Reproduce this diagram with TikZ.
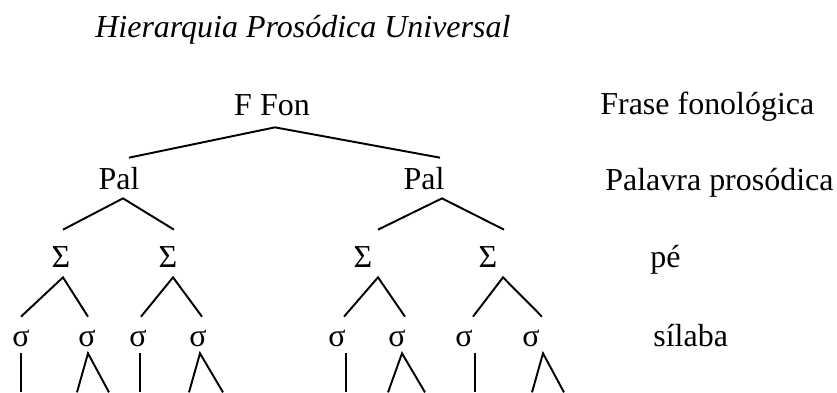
\documentclass[tikz,border=0pt]{standalone}
\usepackage{fontspec}
\setmainfont{Liberation Serif}
\usetikzlibrary{calc}

\begin{document}
\begin{tikzpicture}[x=0.02cm, y=-0.02cm,
  font=\fontsize{18.2}{22}\selectfont,
  nivel/.style={inner sep=0pt, anchor=base},
  ffon/.style={nivel, text height=0.4cm, text depth=0.24cm},
  pal/.style={nivel, text height=0.62cm, text depth=0.18cm},
  pe/.style={nivel, text height=0.74cm, text depth=0.2cm},
  sil/.style={nivel, text height=0.58cm, text depth=0.14cm},
  rotulo/.style={inner sep=0pt, anchor=base west},
  ramo/.style={line width=1.1pt}]
\useasboundingbox (0,0) rectangle (837,392);
\node [rotulo, font=\fontsize{18.2}{22}\selectfont\itshape] (titulo) at (95,37) {Hierarquia Prosódica Universal};
% frase fonologica
\node [ffon] (ffon) at (272,115) {F Fon};
\node [rotulo] (lfrase) at (600,114) {Frase fonológica};
% palavras
\node [pal] (pal1) at (119,189) {Pal};
\node [pal] (pal2) at (424,189) {Pal};
\node [rotulo] (lpal) at (605,190) {Palavra prosódica};
% pes
\node [pe] (p1) at (61,267) {Σ};
\node [pe] (p2) at (168,267) {Σ};
\node [pe] (p3) at (363,267) {Σ};
\node [pe] (p4) at (488,267) {Σ};
\node [rotulo] (lpe) at (650,267) {pé};
% silabas
\node [sil] (s1) at (21,346) {σ};
\node [sil] (s2) at (87,346) {σ};
\node [sil] (s3) at (138,346) {σ};
\node [sil] (s4) at (198,346) {σ};
\node [sil] (s5) at (337,346) {σ};
\node [sil] (s6) at (397,346) {σ};
\node [sil] (s7) at (464,346) {σ};
\node [sil] (s8) at (531,346) {σ};
\node [rotulo] (lsil) at (653,346) {sílaba};
% ramos
\draw [ramo] ($(pal1.north)+(10,0)$) -- ($(ffon.south)+(3,0)$) -- ($(pal2.north)+(16,0)$);
\draw [ramo] ($(p1.north)+(2,0)$) -- ($(pal1.south)+(4,0)$) -- ($(p2.north)+(6,0)$);
\draw [ramo] ($(p3.north)+(15,0)$) -- ($(pal2.south)+(18,0)$) -- ($(p4.north)+(16,0)$);
\draw [ramo] (s1.north) -- ($(p1.south)+(2,0)$) -- ($(s2.north)+(1,0)$);
\draw [ramo] ($(s3.north)+(3,0)$) -- ($(p2.south)+(5,0)$) -- ($(s4.north)+(4,0)$);
\draw [ramo] ($(s5.north)+(7,0)$) -- ($(p3.south)+(15,0)$) -- ($(s6.north)+(8,0)$);
\draw [ramo] ($(s7.north)+(9,0)$) -- ($(p4.south)+(15,0)$) -- ($(s8.north)+(11,0)$);
% segmentos
\draw [ramo] (s1.south) -- +(0,39);
\draw [ramo] ($(s3.south)+(2,0)$) -- +(0,39);
\draw [ramo] ($(s5.south)+(9,0)$) -- +(0,39);
\draw [ramo] ($(s7.south)+(11,0)$) -- +(0,39);
\draw [ramo] ($(s2.south)+(-10,39)$) -- ($(s2.south)+(1,0)$) -- ($(s2.south)+(22,39)$);
\draw [ramo] ($(s4.south)+(-9,39)$) -- ($(s4.south)+(2,0)$) -- ($(s4.south)+(25,39)$);
\draw [ramo] ($(s6.south)+(-9,39)$) -- ($(s6.south)+(5,0)$) -- ($(s6.south)+(28,39)$);
\draw [ramo] ($(s8.south)+(1,39)$) -- ($(s8.south)+(12,0)$) -- ($(s8.south)+(33,39)$);
\end{tikzpicture}
\end{document}
